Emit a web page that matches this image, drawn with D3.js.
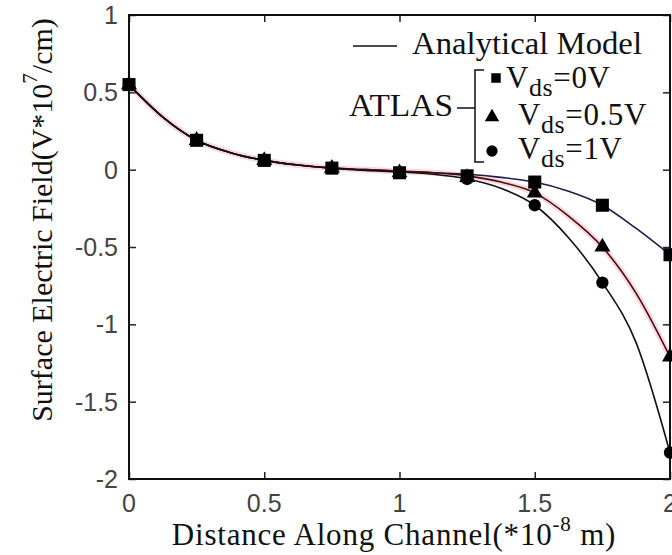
<!DOCTYPE html>
<html>
<head>
<meta charset="utf-8">
<script src="https://cdn.jsdelivr.net/npm/d3@7"></script>
<style>
  body { margin: 0; background: #fff; }
  svg { display: block; }
  .serif { font-family: "Liberation Serif", "Times New Roman", "DejaVu Serif", serif; }
  .sans { font-family: "Liberation Sans", Arial, "DejaVu Sans", sans-serif; }
</style>
</head>
<body>
<div id="chart"></div>
<script>
// ATLAS simulation points
const xSim = [0, 0.25, 0.5, 0.75, 1.0, 1.25, 1.5, 1.75, 2.0]
const simV0 = [0.55, 0.19, 0.06, 0.01, -0.02, -0.04, -0.08, -0.23, -0.55]
const simV05 = [0.55, 0.19, 0.06, 0.01, -0.02, -0.05, -0.15, -0.50, -1.21]
const simV1 = [0.55, 0.19, 0.06, 0.01, -0.02, -0.06, -0.23, -0.73, -1.83]

// analytical model curves
const xModel = [0, 0.125, 0.25, 0.375, 0.5, 0.625, 0.75, 0.875, 1.0, 1.125, 1.25, 1.375, 1.5, 1.625, 1.75, 1.875, 2.0]
const modelV0 = [0.55, 0.34, 0.19, 0.11, 0.06, 0.03, 0.01, 0.0, -0.01, -0.02, -0.03, -0.05, -0.08, -0.14, -0.23, -0.38, -0.55]
const modelV05 = [0.55, 0.34, 0.19, 0.11, 0.06, 0.03, 0.01, 0.0, -0.01, -0.02, -0.04, -0.08, -0.15, -0.30, -0.50, -0.80, -1.21]
const modelV1 = [0.55, 0.34, 0.19, 0.11, 0.06, 0.03, 0.01, -0.005, -0.015, -0.03, -0.06, -0.12, -0.23, -0.44, -0.73, -1.12, -1.83]

const xTicks = [0, 0.5, 1, 1.5, 2]
const yTicks = [1, 0.5, 0, -0.5, -1, -1.5, -2]

const width = 672, height = 555
const margin = {top: 15, right: 2, bottom: 76, left: 129}

const svg = d3.select('#chart')
    .append('svg')
    .attr('width', width)
    .attr('height', height)

const x = d3.scaleLinear().domain([0, 2]).range([margin.left, width - margin.right])
const y = d3.scaleLinear().domain([-2, 1]).range([height - margin.bottom, margin.top])

// ticks on all four sides, pointing inwards
svg.append('g')
    .attr('transform', `translate(0,${y(-2)})`)
    .call(d3.axisTop(x).tickValues(xTicks).tickSize(7).tickFormat(''))
svg.append('g')
    .attr('transform', `translate(0,${y(1)})`)
    .call(d3.axisBottom(x).tickValues(xTicks).tickSize(7).tickFormat(''))
svg.append('g')
    .attr('transform', `translate(${x(0)},0)`)
    .call(d3.axisRight(y).tickValues(yTicks).tickSize(7).tickFormat(''))
svg.append('g')
    .attr('transform', `translate(${x(2)},0)`)
    .call(d3.axisLeft(y).tickValues(yTicks).tickSize(7).tickFormat(''))
svg.selectAll('.domain').remove()
svg.selectAll('.tick line').attr('stroke', '#222').attr('stroke-width', 1.5)

// box
svg.append('rect')
    .attr('x', x(0)).attr('y', y(1))
    .attr('width', x(2) - x(0)).attr('height', y(-2) - y(1))
    .attr('fill', 'none').attr('stroke', '#111').attr('stroke-width', 2)

// tick labels
svg.append('g').attr('class', 'sans').selectAll('text')
    .data(xTicks)
    .join('text')
    .attr('x', d => x(d))
    .attr('y', y(-2) + 33)
    .attr('text-anchor', 'middle')
    .attr('font-size', 25)
    .attr('fill', '#444')
    .text(d => d)

svg.append('g').attr('class', 'sans').selectAll('text')
    .data(yTicks)
    .join('text')
    .attr('x', x(0) - 11)
    .attr('y', d => y(d) + 9)
    .attr('text-anchor', 'end')
    .attr('font-size', 25)
    .attr('fill', '#444')
    .text(d => d)

// model lines
const series = [
    {model: modelV0, sim: simV0, color: '#1d1d48', halo: null, mark: 'square'},
    {model: modelV05, sim: simV05, color: '#4a0c10', halo: 'rgba(235,130,150,0.3)', mark: 'triangle'},
    {model: modelV1, sim: simV1, color: '#111', halo: null, mark: 'circle'}
]

const line = d3.line()
    .x((d, i) => x(xModel[i]))
    .y(d => y(d))
    .curve(d3.curveMonotoneX)

series.filter(s => s.halo).forEach(s => {
    svg.append('path')
        .attr('d', line(s.model))
        .attr('fill', 'none')
        .attr('stroke', s.halo)
        .attr('stroke-width', 6)
})

series.forEach(s => {
    svg.append('path')
        .attr('d', line(s.model))
        .attr('fill', 'none')
        .attr('stroke', s.color)
        .attr('stroke-width', 1.6)
})

// markers: circles first, squares on top
const symbols = {
    square: d3.symbol().type(d3.symbolSquare).size(170),
    triangle: d3.symbol().type(d3.symbolTriangle).size(110),
    circle: d3.symbol().type(d3.symbolCircle).size(120)
}

series.slice().reverse().forEach(s => {
    svg.append('g').selectAll('path')
        .data(s.sim)
        .join('path')
        .attr('transform', (d, i) => `translate(${x(xSim[i])},${y(d)})`)
        .attr('d', symbols[s.mark]())
        .attr('fill', '#000')
})

// legend
const leg = svg.append('g').attr('class', 'serif').attr('fill', '#111')
leg.append('line')
    .attr('x1', 353).attr('x2', 397).attr('y1', 46).attr('y2', 46)
    .attr('stroke', '#111').attr('stroke-width', 1.5)
leg.append('text')
    .attr('x', 412).attr('y', 54)
    .attr('font-size', 31)
    .attr('textLength', 230)
    .attr('lengthAdjust', 'spacingAndGlyphs')
    .text('Analytical Model')

leg.append('text')
    .attr('x', 349).attr('y', 116)
    .attr('font-size', 31)
    .attr('textLength', 104)
    .attr('lengthAdjust', 'spacingAndGlyphs')
    .text('ATLAS')

leg.append('path')
    .attr('d', 'M457,108H475M484,70H475V162H484')
    .attr('fill', 'none')
    .attr('stroke', '#111')
    .attr('stroke-width', 1.5)

const legRows = [
    {mark: 'square', mx: 496, my: 78, tx: 506, ty: 88, label: '=0V'},
    {mark: 'triangle', mx: 492, my: 117, tx: 518, ty: 125, label: '=0.5V'},
    {mark: 'circle', mx: 492, my: 151, tx: 518, ty: 159, label: '=1V'}
]
const legSym = {
    square: d3.symbol().type(d3.symbolSquare).size(90),
    triangle: d3.symbol().type(d3.symbolTriangle).size(90),
    circle: d3.symbol().type(d3.symbolCircle).size(100)
}
legRows.forEach(r => {
    leg.append('path')
        .attr('transform', `translate(${r.mx},${r.my})`)
        .attr('d', legSym[r.mark]())
        .attr('fill', '#000')
    const t = leg.append('text')
        .attr('x', r.tx).attr('y', r.ty)
        .attr('font-size', 31)
        .attr('letter-spacing', 0.6)
    t.append('tspan').text('V')
    t.append('tspan').attr('dy', 8).attr('font-size', 26).text('ds')
    t.append('tspan').attr('dy', -8).text(r.label)
})

// axis titles
const xt = svg.append('text')
    .attr('class', 'serif')
    .attr('x', 394).attr('y', 545)
    .attr('text-anchor', 'middle')
    .attr('font-size', 31)
    .attr('letter-spacing', 0.8)
    .attr('fill', '#111')
xt.append('tspan').text('Distance Along Channel(*10')
xt.append('tspan').attr('dy', -14).attr('font-size', 21).text('-8')
xt.append('tspan').attr('dy', 14).text(' m)')

const yt = svg.append('text')
    .attr('class', 'serif')
    .attr('transform', 'translate(52,220) rotate(-90)')
    .attr('text-anchor', 'middle')
    .attr('font-size', 30)
    .attr('fill', '#111')
yt.append('tspan').text('Surface Electric Field(V*10')
yt.append('tspan').attr('dy', -15).attr('font-size', 21).text('7')
yt.append('tspan').attr('dy', 15).text('/cm)')
</script>
</body>
</html>
